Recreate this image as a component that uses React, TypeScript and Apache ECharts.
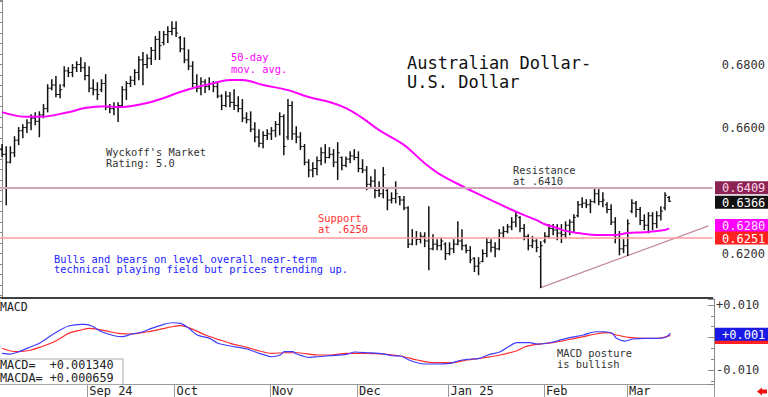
import React, { useEffect, useRef } from "react";
import * as echarts from "echarts";

const FONT = '"DejaVu Sans Mono", monospace';

// ---- daily OHLC (trading days from 2024-08-02 to 2025-03-18) ----
const highs = [
  0.6546, 0.6539, 0.6539, 0.6571, 0.66, 0.6609, 0.6625, 0.6641, 0.6647, 0.665,
  0.6673, 0.6736, 0.6752, 0.6762, 0.6736, 0.6793, 0.679, 0.68, 0.6809, 0.6822,
  0.6806, 0.6793, 0.6752, 0.6742, 0.6752, 0.6768, 0.6673, 0.6679, 0.6679, 0.673,
  0.6746, 0.6762, 0.6784, 0.6825, 0.6838, 0.6831, 0.6854, 0.6889, 0.6905, 0.6905,
  0.692, 0.6936, 0.6936, 0.6889, 0.6885, 0.6847, 0.6809, 0.6768, 0.6758, 0.6752,
  0.6758, 0.6746, 0.6742, 0.6704, 0.6714, 0.6711, 0.672, 0.6698, 0.6689, 0.6647,
  0.665, 0.6615, 0.6593, 0.6587, 0.6593, 0.66, 0.6619, 0.6647, 0.6641, 0.6689,
  0.6682, 0.6603, 0.6584, 0.6546, 0.6498, 0.6488, 0.6507, 0.6536, 0.6546, 0.6536,
  0.653, 0.6552, 0.6507, 0.6507, 0.6523, 0.653, 0.6523, 0.6498, 0.6476, 0.6444,
  0.6466, 0.6428, 0.6473, 0.6403, 0.6393, 0.6428, 0.6381, 0.6381, 0.6349, 0.6276,
  0.627, 0.6266, 0.6266, 0.6349, 0.626, 0.6244, 0.625, 0.6234, 0.6234, 0.6244,
  0.6301, 0.6276, 0.6228, 0.6222, 0.6187, 0.6187, 0.6212, 0.625, 0.6244, 0.6234,
  0.6276, 0.6285, 0.6292, 0.6314, 0.6333, 0.6317, 0.6292, 0.626, 0.6254, 0.6244,
  0.6238, 0.6266, 0.6292, 0.6292, 0.6292, 0.6292, 0.6301, 0.6307, 0.6323, 0.6365,
  0.6377, 0.6371, 0.6371, 0.6409, 0.6403, 0.6393, 0.6361, 0.6355, 0.6314, 0.627,
  0.6244, 0.6307, 0.6371, 0.6365, 0.6346, 0.6323, 0.633, 0.633, 0.6333, 0.6349,
  0.6393, 0.6381,
];
const lows = [
  0.6508, 0.6355, 0.6488, 0.6508, 0.6546, 0.6568, 0.6584, 0.6593, 0.6609, 0.6571,
  0.6631, 0.665, 0.672, 0.6698, 0.6695, 0.673, 0.6762, 0.6762, 0.6778, 0.6778,
  0.6752, 0.6714, 0.6704, 0.6689, 0.6714, 0.6657, 0.6647, 0.6641, 0.6619, 0.6666,
  0.6689, 0.673, 0.6736, 0.6752, 0.6736, 0.679, 0.68, 0.6816, 0.6816, 0.6863,
  0.687, 0.6895, 0.6889, 0.6841, 0.6806, 0.6784, 0.673, 0.6714, 0.6704, 0.6711,
  0.672, 0.6714, 0.6695, 0.6657, 0.6666, 0.6666, 0.6657, 0.665, 0.6619, 0.6615,
  0.6587, 0.6555, 0.6539, 0.6536, 0.6562, 0.6562, 0.6571, 0.6577, 0.6514, 0.6562,
  0.6562, 0.6552, 0.653, 0.6482, 0.6444, 0.6444, 0.645, 0.6482, 0.6488, 0.6504,
  0.6476, 0.6435, 0.6466, 0.6476, 0.6488, 0.6498, 0.646, 0.6457, 0.6403, 0.6412,
  0.6377, 0.6381, 0.6377, 0.6339, 0.6361, 0.6361, 0.6355, 0.6339, 0.6219, 0.6228,
  0.6228, 0.6234, 0.6222, 0.6149, 0.6212, 0.6212, 0.6212, 0.6181, 0.6196, 0.6203,
  0.6228, 0.6212, 0.6203, 0.6171, 0.6143, 0.6133, 0.6174, 0.619, 0.6206, 0.619,
  0.6212, 0.625, 0.6266, 0.6276, 0.6285, 0.6269, 0.6244, 0.6212, 0.6219, 0.6206,
  0.6092, 0.6234, 0.625, 0.626, 0.6244, 0.6235, 0.625, 0.626, 0.6269, 0.6317,
  0.6346, 0.6346, 0.633, 0.6361, 0.6355, 0.6349, 0.633, 0.6292, 0.6234, 0.6196,
  0.6203, 0.6194, 0.633, 0.6317, 0.6292, 0.6276, 0.6266, 0.6276, 0.6282, 0.6307,
  0.6339, 0.6365,
];
const opens = [
  0.653, 0.6515, 0.649, 0.652, 0.656, 0.659, 0.66, 0.6615, 0.663, 0.662,
  0.664, 0.666, 0.6725, 0.6735, 0.6705, 0.6735, 0.678, 0.6775, 0.679, 0.68,
  0.679, 0.6765, 0.6725, 0.672, 0.672, 0.674, 0.6665, 0.666, 0.6665, 0.667,
  0.672, 0.674, 0.675, 0.6775, 0.6815, 0.68, 0.682, 0.6845, 0.688, 0.687,
  0.6895, 0.6905, 0.6915, 0.6885, 0.685, 0.6815, 0.6795, 0.674, 0.6725, 0.6745,
  0.673, 0.674, 0.673, 0.67, 0.667, 0.67, 0.668, 0.667, 0.666, 0.663,
  0.6625, 0.6595, 0.657, 0.655, 0.6575, 0.658, 0.659, 0.661, 0.6635, 0.657,
  0.667, 0.658, 0.657, 0.654, 0.649, 0.6465, 0.647, 0.6495, 0.652, 0.6505,
  0.6515, 0.649, 0.6505, 0.648, 0.65, 0.651, 0.6505, 0.647, 0.6465, 0.642,
  0.643, 0.64, 0.639, 0.64, 0.637, 0.6375, 0.638, 0.637, 0.6345, 0.623,
  0.625, 0.6245, 0.6255, 0.624, 0.6215, 0.623, 0.6225, 0.623, 0.62, 0.6215,
  0.623, 0.624, 0.6225, 0.621, 0.6185, 0.616, 0.6175, 0.62, 0.6235, 0.622,
  0.6215, 0.6265, 0.627, 0.6285, 0.63, 0.6315, 0.628, 0.6255, 0.6225, 0.624,
  0.619, 0.624, 0.6255, 0.628, 0.6275, 0.6265, 0.626, 0.629, 0.63, 0.632,
  0.6355, 0.636, 0.6355, 0.6365, 0.639, 0.6365, 0.6355, 0.634, 0.63, 0.625,
  0.6215, 0.6225, 0.6335, 0.636, 0.634, 0.6305, 0.629, 0.632, 0.6295, 0.632,
  0.6345, 0.6378,
];
const closes = [
  0.6515, 0.649, 0.652, 0.656, 0.659, 0.66, 0.6615, 0.663, 0.662, 0.664,
  0.666, 0.6725, 0.6735, 0.6705, 0.672, 0.678, 0.6775, 0.679, 0.68, 0.679,
  0.6765, 0.6725, 0.672, 0.6705, 0.674, 0.6665, 0.666, 0.6665, 0.667, 0.672,
  0.674, 0.675, 0.6775, 0.6815, 0.68, 0.682, 0.6845, 0.688, 0.686, 0.6895,
  0.6905, 0.6915, 0.69, 0.685, 0.6815, 0.6795, 0.674, 0.6725, 0.6745, 0.673,
  0.674, 0.673, 0.67, 0.667, 0.67, 0.668, 0.667, 0.666, 0.663, 0.6625,
  0.6595, 0.657, 0.655, 0.6575, 0.658, 0.659, 0.661, 0.6635, 0.654, 0.667,
  0.658, 0.657, 0.654, 0.649, 0.6465, 0.647, 0.6495, 0.652, 0.6505, 0.6515,
  0.649, 0.652, 0.648, 0.65, 0.651, 0.6505, 0.647, 0.6465, 0.642, 0.643,
  0.64, 0.639, 0.645, 0.637, 0.6375, 0.639, 0.637, 0.6345, 0.623, 0.625,
  0.6245, 0.6255, 0.624, 0.6215, 0.623, 0.6225, 0.624, 0.62, 0.6215, 0.623,
  0.624, 0.6225, 0.621, 0.618, 0.616, 0.617, 0.62, 0.6235, 0.622, 0.6215,
  0.6265, 0.627, 0.6285, 0.63, 0.632, 0.628, 0.6255, 0.6225, 0.624, 0.622,
  0.6225, 0.6255, 0.628, 0.6275, 0.6265, 0.626, 0.629, 0.63, 0.6315, 0.6355,
  0.636, 0.6355, 0.6365, 0.639, 0.6365, 0.637, 0.634, 0.63, 0.625, 0.6215,
  0.6225, 0.6295, 0.636, 0.634, 0.6305, 0.629, 0.632, 0.6295, 0.632, 0.6335,
  0.6385, 0.6366,
];

// 50-day moving average, read at sample bars [barIndex, value]
const ma50: [number, number][] = [
  [0, 0.6649], [6, 0.6634], [9, 0.6634], [16, 0.6649], [20, 0.6662], [25, 0.6668],
  [28, 0.6665], [35, 0.6678], [39, 0.6694], [43, 0.6713], [47, 0.6729], [51, 0.6741],
  [55, 0.6751], [58, 0.6751], [63, 0.6735], [69, 0.6719], [74, 0.6697], [79, 0.6681],
  [83, 0.6662], [87, 0.663], [91, 0.6592], [97, 0.6545], [102, 0.6487], [106, 0.6449],
  [112, 0.6408], [114, 0.6395], [118, 0.637], [122, 0.6345], [126, 0.6322], [129, 0.6306],
  [131, 0.6293], [134, 0.6281], [136, 0.6272], [139, 0.6265], [143, 0.6259], [148, 0.6259],
  [151, 0.6265], [155, 0.6268], [160, 0.6275], [161, 0.628],
];

// MACD and its signal line (MACDA), read at sample bars
const macd: [number, number][] = [
  [0, -0.00486], [2, -0.00508], [4, -0.00437], [7, -0.00283], [9, -0.00178], [12, 0.00077],
  [14, 0.00231], [16, 0.00354], [19, 0.00406], [20, 0.00406], [22, 0.00332], [24, 0.00178],
  [27, 0.00055], [29, 0.00025], [31, 0.00098], [34, 0.00178], [36, 0.00283], [39, 0.00406],
  [41, 0.00455], [43, 0.00437], [45, 0.00283], [47, 0.00077], [50, -0.00025], [52, -0.00178],
  [55, -0.00262], [59, -0.00354], [62, -0.00486], [65, -0.00591], [67, -0.00538], [68, -0.00437],
  [70, -0.00437], [71, -0.00508], [74, -0.00609], [76, -0.00591], [79, -0.0056], [83, -0.00517],
  [85, -0.00446], [88, -0.00468], [92, -0.00508], [94, -0.0056], [96, -0.00569], [98, -0.00692],
  [100, -0.00775], [102, -0.00815], [104, -0.00815], [108, -0.00794], [110, -0.00714], [112, -0.00671],
  [115, -0.0064], [117, -0.00538], [120, -0.00437], [122, -0.00283], [124, -0.0016], [127, -0.0016],
  [129, -0.002], [132, -0.0016], [134, -0.00098], [136, -0.00025], [140, 0.00077], [143, 0.00178],
  [145, 0.00178], [147, 0.00129], [148, -0.00025], [150, -0.00108], [152, -0.00046], [155, -0.00025],
  [158, -0.00025], [160, 0.00015], [161, 0.00134],
];
const macda: [number, number][] = [
  [0, -0.00332], [2, -0.00415], [4, -0.00437], [7, -0.00385], [9, -0.00302], [12, -0.0016],
  [14, -0.00025], [16, 0.00129], [19, 0.00231], [21, 0.00283], [23, 0.00252], [26, 0.00178],
  [28, 0.00129], [31, 0.00108], [35, 0.00178], [38, 0.00252], [41, 0.00332], [43, 0.00363],
  [46, 0.00252], [49, 0.00077], [52, -0.00055], [55, -0.00178], [59, -0.00302], [62, -0.00415],
  [65, -0.00486], [68, -0.00468], [71, -0.00468], [76, -0.00538], [79, -0.00538], [83, -0.00486],
  [88, -0.00486], [92, -0.00508], [96, -0.00569], [100, -0.00692], [104, -0.00775], [108, -0.00775],
  [112, -0.00692], [116, -0.00622], [120, -0.00538], [124, -0.00406], [126, -0.00283], [129, -0.00209],
  [133, -0.00148], [136, -0.00077], [140, 0.00025], [143, 0.00108], [146, 0.00148], [148, 0.00077],
  [151, 0.00006], [155, -0.00025], [158, -0.00025], [161, 0.00066],
];

// trendline from the early-February low
const trendLine: [number, number][] = [[130, 0.6092], [170.5, 0.6288]];

const resistance = 0.6409;
const support = 0.6251;
const lastClose = 0.6366;
const lastMA = 0.628;
const lastMACD = 0.00134;
const lastMACDA = 0.000659;

const priceTickLabels = ["0.6200", "0.6600", "0.6800"];
const monthTickLabels = ["Sep 24", "Oct", "Nov", "Dec", "Jan 25", "Feb", "Mar"];

function weekdays(start: [number, number, number], end: [number, number, number]): Date[] {
  const out: Date[] = [];
  const d = new Date(Date.UTC(start[0], start[1] - 1, start[2]));
  const e = Date.UTC(end[0], end[1] - 1, end[2]);
  while (d.getTime() <= e) {
    const wd = d.getUTCDay();
    if (wd !== 0 && wd !== 6) out.push(new Date(d.getTime()));
    d.setUTCDate(d.getUTCDate() + 1);
  }
  return out;
}

const days = weekdays([2024, 8, 2], [2025, 3, 31]);
const categories = days.map((d) => d.toISOString().slice(0, 10));
const monthStart: Record<number, string> = {};
{
  let k = 0;
  for (let i = 1; i < days.length; i++) {
    if (days[i].getUTCMonth() !== days[i - 1].getUTCMonth() && k < monthTickLabels.length) {
      monthStart[i] = monthTickLabels[k++];
    }
  }
}

function buildOption(): any {
  const ohlc = highs.map((h, i) => [i, opens[i], h, lows[i], closes[i]]);
  return {
    animation: false,
    backgroundColor: "#ffffff",
    grid: [
      { left: 0, top: 0, width: 714, height: 298 },
      { left: 0, top: 299, width: 714, height: 85 },
    ],
    xAxis: [
      {
        type: "category",
        gridIndex: 0,
        data: categories,
        boundaryGap: true,
        axisLine: { show: true, onZero: false, lineStyle: { color: "#000", width: 1.5 } },
        axisTick: { show: false },
        axisLabel: { show: false },
        splitLine: { show: false },
      },
      {
        type: "category",
        gridIndex: 1,
        data: categories,
        boundaryGap: true,
        axisLine: { show: true, onZero: false, lineStyle: { color: "#999", width: 1 } },
        axisTick: {
          show: true,
          length: 13,
          interval: (i: number) => monthStart[i] !== undefined,
          lineStyle: { color: "#999" },
        },
        axisLabel: {
          show: true,
          interval: (i: number) => monthStart[i] !== undefined,
          formatter: (_v: string, i: number) => monthStart[i] || "",
          align: "left",
          margin: 1,
          fontFamily: FONT,
          fontSize: 12,
          color: "#222",
        },
        splitLine: { show: false },
      },
      { type: "value", gridIndex: 0, min: -0.5, max: categories.length - 0.5, show: false },
    ],
    yAxis: [
      {
        type: "value",
        gridIndex: 0,
        position: "right",
        min: 0.6059,
        max: 0.7005,
        splitNumber: 5,
        axisLine: { show: true, lineStyle: { color: "#888" } },
        axisTick: { show: true, inside: true, length: 6, lineStyle: { color: "#888" } },
        minorTick: { show: true, splitNumber: 6, length: 3, lineStyle: { color: "#888" } },
        splitLine: { show: false },
        axisLabel: {
          margin: 9,
          fontFamily: FONT,
          fontSize: 12,
          color: "#333",
          showMinLabel: false,
          showMaxLabel: false,
          formatter: (v: number) => {
            const s = v.toFixed(4);
            return priceTickLabels.includes(s) ? s : "";
          },
        },
      },
      {
        type: "value",
        gridIndex: 1,
        position: "right",
        min: -0.0143,
        max: 0.01185,
        splitNumber: 3,
        axisLine: { show: true, lineStyle: { color: "#888" } },
        axisTick: { show: true, inside: true, length: 6, lineStyle: { color: "#888" } },
        minorTick: { show: true, splitNumber: 3, length: 3, lineStyle: { color: "#888" } },
        splitLine: { show: false },
        axisLabel: {
          margin: 2,
          fontFamily: FONT,
          fontSize: 12,
          color: "#333",
          showMinLabel: false,
          showMaxLabel: false,
          formatter: (v: number) => {
            const s = v.toFixed(3);
            if (s === "0.010") return "+0.010";
            if (s === "-0.010") return "-0.010";
            return "";
          },
        },
      },
    ],
    series: [
      {
        type: "line",
        name: "trend",
        xAxisIndex: 2,
        yAxisIndex: 0,
        data: trendLine,
        symbol: "none",
        silent: true,
        z: 1,
        lineStyle: { color: "#c4889e", width: 1.2 },
        markLine: {
          symbol: "none",
          silent: true,
          precision: 4,
          label: { show: false },
          data: [
            { yAxis: resistance, lineStyle: { color: "#d3a7ba", width: 2, type: "solid" } },
            { yAxis: support, lineStyle: { color: "#ff9c9c", width: 1.5, type: "solid" } },
          ],
        },
      },
      {
        type: "custom",
        name: "AUD/USD",
        xAxisIndex: 0,
        yAxisIndex: 0,
        data: ohlc,
        encode: { x: 0, y: [1, 2, 3, 4] },
        z: 2,
        renderItem: (_p: any, api: any) => {
          const x = api.value(0);
          const o = api.coord([x, api.value(1)]);
          const h = api.coord([x, api.value(2)]);
          const l = api.coord([x, api.value(3)]);
          const c = api.coord([x, api.value(4)]);
          const cx = h[0];
          return {
            type: "group",
            children: [
              { type: "line", shape: { x1: cx, y1: h[1] - 0.5, x2: cx, y2: l[1] + 0.5 }, style: { stroke: "#111", lineWidth: 1.5 } },
              { type: "line", shape: { x1: cx - 2, y1: o[1], x2: cx, y2: o[1] }, style: { stroke: "#111", lineWidth: 1 } },
              { type: "line", shape: { x1: cx, y1: c[1], x2: cx + 2, y2: c[1] }, style: { stroke: "#111", lineWidth: 1 } },
            ],
          };
        },
      },
      {
        type: "line",
        name: "50-day",
        xAxisIndex: 0,
        yAxisIndex: 0,
        data: ma50,
        smooth: 0.4,
        symbol: "none",
        z: 3,
        lineStyle: { color: "#ff00ff", width: 2 },
      },
      {
        type: "line",
        name: "MACDA",
        xAxisIndex: 1,
        yAxisIndex: 1,
        data: macda,
        smooth: 0.3,
        symbol: "none",
        lineStyle: { color: "#ff2a2a", width: 1.2 },
      },
      {
        type: "line",
        name: "MACD",
        xAxisIndex: 1,
        yAxisIndex: 1,
        data: macd,
        smooth: 0.3,
        symbol: "none",
        lineStyle: { color: "#3d3dff", width: 1.2 },
      },
    ],
  };
}

function tag(y: number, text: string, bg: string, fg: string, z: number, h = 13): any {
  return {
    type: "group",
    children: [
      { type: "rect", z, shape: { x: 715, y: y - h / 2, width: 53, height: h }, style: { fill: bg } },
      {
        type: "text",
        z: z + 1,
        x: 722,
        y: y + 0.5,
        style: { text, fill: fg, font: `12px ${FONT}`, verticalAlign: "middle", align: "left" },
      },
    ],
  };
}

function txt(x: number, y: number, text: string, color: string, size: number, lh: number): any {
  return {
    type: "text",
    x,
    y,
    z: 20,
    style: { text, fill: color, font: `${size}px ${FONT}`, lineHeight: lh, verticalAlign: "top", align: "left" },
  };
}

function buildGraphics(py: (v: number) => number, my: (v: number) => number): any[] {
  const redY = my(lastMACDA) + 1.5;
  return [
    txt(407, 53.5, "Australian Dollar-\nU.S. Dollar", "#111", 17, 19),
    txt(231, 50.5, "50-day\nmov. avg.", "#ff00ff", 10.4, 12),
    txt(106, 146, "Wyckoff's Market\nRating: 5.0", "#333", 10.4, 11),
    txt(513, 164.5, "Resistance\nat .6410", "#333", 10.4, 11),
    txt(318, 213, "Support\nat .6250", "#ff3030", 10.4, 10.5),
    txt(54, 253.5, "Bulls and bears on level overall near-term\ntechnical playing field but prices trending up.", "#2222ff", 10.4, 10.5),
    txt(557, 347.5, "MACD posture\nis bullish", "#333", 10.4, 10.7),
    txt(0, 300.5, "MACD", "#222", 11.5, 12),
    {
      type: "rect",
      z: 19,
      shape: { x: -1, y: 359, width: 124, height: 25.5 },
      style: { fill: "#fff", stroke: "#aaa", lineWidth: 1 },
    },
    txt(0, 359, "MACD=  +0.001340", "#222", 11.8, 12),
    txt(0, 371.5, "MACDA= +0.000659", "#222", 11.8, 12),
    tag(py(lastMA) - 3, "0.6280", "#ff00ff", "#ffe6ff", 30),
    tag(py(support) + 0.5, "0.6251", "#ff2020", "#fff", 32),
    tag(py(resistance), "0.6409", "#8b2455", "#ffd8e8", 34),
    tag(py(lastClose) + 1, "0.6366", "#111", "#fff", 36),
    { type: "rect", z: 30, shape: { x: 715, y: redY - 7, width: 53, height: 14 }, style: { fill: "#ff2020" } },
    tag(my(lastMACD) + 1, "+0.001", "#1a1ae6", "#fff", 32),
    {
      type: "polygon",
      z: 20,
      shape: {
        points: [
          [757, 391.5], [762, 387.5], [762, 389.5], [767, 389.5],
          [767, 393.5], [762, 393.5], [762, 395.5],
        ],
      },
      style: { fill: "#ee1111" },
    },
  ];
}

export default function App() {
  const ref = useRef<HTMLDivElement>(null);
  useEffect(() => {
    document.body.style.margin = "0";
    const chart = echarts.init(ref.current as HTMLDivElement, null, { renderer: "svg" });
    chart.setOption(buildOption());
    const py = (v: number) => chart.convertToPixel({ yAxisIndex: 0 } as any, v) as unknown as number;
    const my = (v: number) => chart.convertToPixel({ yAxisIndex: 1 } as any, v) as unknown as number;
    chart.setOption({ graphic: buildGraphics(py, my) });
    return () => chart.dispose();
  }, []);
  return <div ref={ref} style={{ width: 768, height: 397 }} />;
}
